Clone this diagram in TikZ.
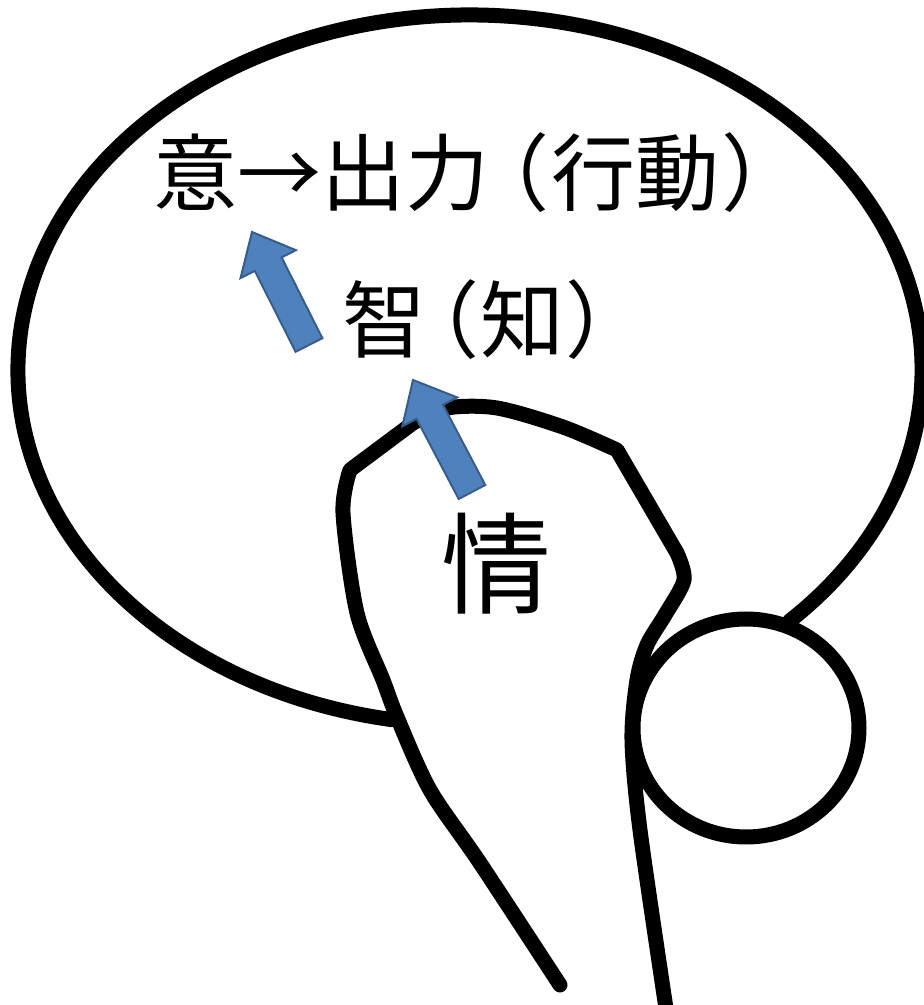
\documentclass[tikz,border=0pt]{standalone}
\usepackage{fontspec}
\usetikzlibrary{calc}
\newfontfamily\jpfont[RawFeature=+palt]{Noto Sans CJK JP}
\definecolor{arrowblue}{HTML}{4F81BD}
\definecolor{arrowedge}{HTML}{385D8A}

\tikzset{
  penline/.style={line width=15pt, line cap=round, line join=round},
  kanji/.style={font=\jpfont\fontsize{84}{90}\selectfont, inner sep=0pt},
  blockfill/.style={fill=arrowblue, draw=arrowedge, line width=2pt, line join=miter},
}

% fat block arrow from #1 (tail) to #2 (tip)
\newcommand{\blockarrow}[2]{%
  \coordinate (ba-base) at ($(#2)!36pt!(#1)$);
  \filldraw[blockfill] ($(#1)!15pt!90:(#2)$)
    -- ($(ba-base)!15pt!-90:(#1)$) -- ($(ba-base)!31pt!-90:(#1)$)
    -- (#2)
    -- ($(ba-base)!31pt!90:(#1)$) -- ($(ba-base)!15pt!90:(#1)$)
    -- ($(#1)!15pt!-90:(#2)$) -- cycle;}

\begin{document}
\begin{tikzpicture}[x=1pt, y=1pt]
\useasboundingbox (0,0) rectangle (924,1005);

% skull outline, open at the stem and at the small ball
\coordinate (skull) at (470,635);
\draw[penline] (skull) ++(260:452 and 355)
  arc[start angle=260, end angle=-45, x radius=452, y radius=355];

% the small ball at the back
\draw[penline] (746,277) ellipse[x radius=113, y radius=109];

% brain stem
\draw[penline]
  plot[smooth] coordinates {(560,20) (480,142) (430,215) (397,288) (383,325) (357,392) (343,492) (350,535)}
  -- (413,582)
  -- plot[smooth] coordinates {(413,582) (447,597) (497,597) (563,578) (617,555)}
  -- (677,452)
  -- plot[smooth] coordinates {(677,452) (684,425) (665,390) (647,360) (637,325) (632,265) (640,175) (667,-10)};

% texts
\node[kanji, anchor=west] (will) at (153,832) {意→出力\kern15pt（\kern5pt 行動\kern5pt）};
\node[kanji, anchor=west] (wisdom) at (342,685) {智\kern8pt（\kern4pt 知\kern4pt）};
\node[kanji, font=\jpfont\fontsize{110}{120}\selectfont] (feeling) at (496,441) {情};

% arrows
\coordinate (feel-tail) at (472,513);
\coordinate (feel-tip) at (413,625);
\coordinate (wis-tail) at (309,660);
\coordinate (wis-tip) at (252,773);
\blockarrow{feel-tail}{feel-tip}
\blockarrow{wis-tail}{wis-tip}
\end{tikzpicture}
\end{document}
